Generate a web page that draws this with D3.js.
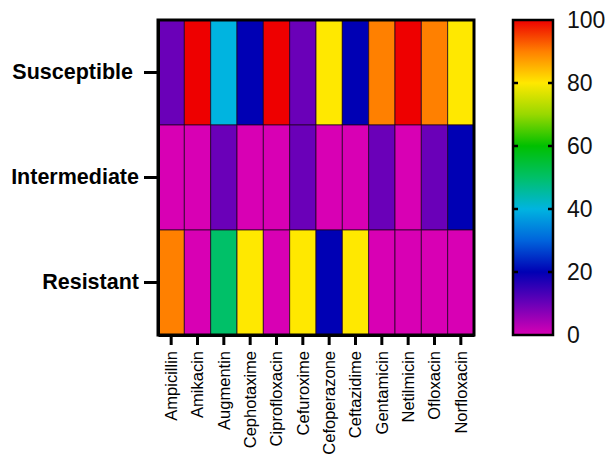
<!DOCTYPE html>
<html>
<head>
<meta charset="utf-8">
<script src="https://cdn.jsdelivr.net/npm/d3@7"></script>
<style>
  html, body { margin: 0; padding: 0; background: #fff; }
  svg { display: block; font-family: "Liberation Sans", Arial, sans-serif; }
</style>
</head>
<body>
<div id="chart"></div>
<script>
// antibiotic susceptibility heatmap (percent of isolates)
const drugs = ['Ampicillin', 'Amikacin', 'Augmentin', 'Cephotaxime', 'Ciprofloxacin', 'Cefuroxime',
  'Cefoperazone', 'Ceftazidime', 'Gentamicin', 'Netilmicin', 'Ofloxacin', 'Norfloxacin'];
const categories = ['Susceptible', 'Intermediate', 'Resistant'];
const susceptible = [10, 100, 40, 20, 100, 10, 80, 20, 90, 100, 90, 80];
const intermediate = [0, 0, 10, 0, 0, 10, 0, 0, 10, 0, 10, 20];
const resistant = [90, 0, 50, 80, 0, 80, 20, 80, 0, 0, 0, 0];
const colorTicks = [0, 20, 40, 60, 80, 100];

// rainbow palette stops (value -> colour)
const stopValues = [0, 10, 20, 30, 40, 50, 60, 70, 80, 90, 100];
const stopColors = ['#d800b4', '#6a00b8', '#0000b4', '#0064dc', '#00b4e0', '#00c068',
  '#00c000', '#98d800', '#ffe800', '#ff8000', '#ee0000'];

const W = 612, H = 462;
const box = { left: 158, right: 474, top: 20, bottom: 335 };
const bar = { left: 513, right: 553 };

const svg = d3.select('#chart').append('svg').attr('width', W).attr('height', H);

const color = d3.scaleLinear().domain(stopValues).range(stopColors);
const x = d3.scaleBand().domain(drugs).range([box.left, box.right]);
const y = d3.scaleBand().domain(categories).range([box.top, box.bottom]);

const rows = [susceptible, intermediate, resistant];
const cells = [];
rows.forEach((vals, r) => vals.forEach((v, i) => cells.push({ cat: categories[r], drug: drugs[i], v })));

svg.append('g').selectAll('rect')
  .data(cells)
  .join('rect')
  .attr('x', d => x(d.drug))
  .attr('y', d => y(d.cat))
  .attr('width', x.bandwidth())
  .attr('height', y.bandwidth())
  .attr('fill', d => color(d.v))
  .attr('stroke', 'rgba(30,0,30,0.75)')
  .attr('stroke-width', 1);

// outer frame
svg.append('rect')
  .attr('x', box.left).attr('y', box.top)
  .attr('width', box.right - box.left).attr('height', box.bottom - box.top)
  .attr('fill', 'none').attr('stroke', '#000').attr('stroke-width', 3);

// left axis
const yAxis = svg.append('g').attr('transform', `translate(${box.left},0)`)
  .call(d3.axisLeft(y).tickSizeInner(14).tickSizeOuter(0).tickPadding(4));
yAxis.select('.domain').attr('stroke-width', 3);
yAxis.selectAll('.tick line').attr('stroke-width', 3);
yAxis.selectAll('.tick text')
  .attr('font-size', 21.5).attr('font-weight', 'bold').attr('fill', '#000')
  .attr('x', d => d === 'Susceptible' ? -25 : -19);

// bottom axis
const xAxis = svg.append('g').attr('transform', `translate(0,${box.bottom})`)
  .call(d3.axisBottom(x).tickSizeInner(10).tickSizeOuter(0).tickPadding(0));
xAxis.select('.domain').attr('stroke-width', 3);
xAxis.selectAll('.tick line').attr('stroke-width', 3);
xAxis.selectAll('.tick text')
  .attr('font-size', 16.5).attr('fill', '#000')
  .attr('text-anchor', 'end')
  .attr('transform', 'rotate(-90)')
  .attr('x', -16).attr('y', 0).attr('dy', '0.35em');

// colour bar
const cy = d3.scaleLinear().domain([0, 100]).range([box.bottom, box.top]);
const grad = svg.append('defs').append('linearGradient')
  .attr('id', 'rainbow').attr('x1', 0).attr('y1', 1).attr('x2', 0).attr('y2', 0);
grad.selectAll('stop')
  .data(stopValues)
  .join('stop')
  .attr('offset', d => `${d}%`)
  .attr('stop-color', d => color(d));

svg.append('rect')
  .attr('x', bar.left).attr('y', box.top)
  .attr('width', bar.right - bar.left).attr('height', box.bottom - box.top)
  .attr('fill', 'url(#rainbow)').attr('stroke', '#000').attr('stroke-width', 2.5);

const inner = colorTicks.filter(t => t > 0 && t < 100);
svg.append('g').selectAll('line.l')
  .data(inner).join('line')
  .attr('x1', bar.left).attr('x2', bar.left + 5)
  .attr('y1', d => cy(d)).attr('y2', d => cy(d))
  .attr('stroke', '#000').attr('stroke-width', 2.5);
svg.append('g').selectAll('line.r')
  .data(inner).join('line')
  .attr('x1', bar.right - 5).attr('x2', bar.right)
  .attr('y1', d => cy(d)).attr('y2', d => cy(d))
  .attr('stroke', '#000').attr('stroke-width', 2.5);

svg.append('g').selectAll('text')
  .data(colorTicks).join('text')
  .attr('x', 567)
  .attr('y', d => cy(d))
  .attr('dy', '0.36em')
  .attr('font-size', 23)
  .attr('fill', '#111')
  .text(d => d);
</script>
</body>
</html>
